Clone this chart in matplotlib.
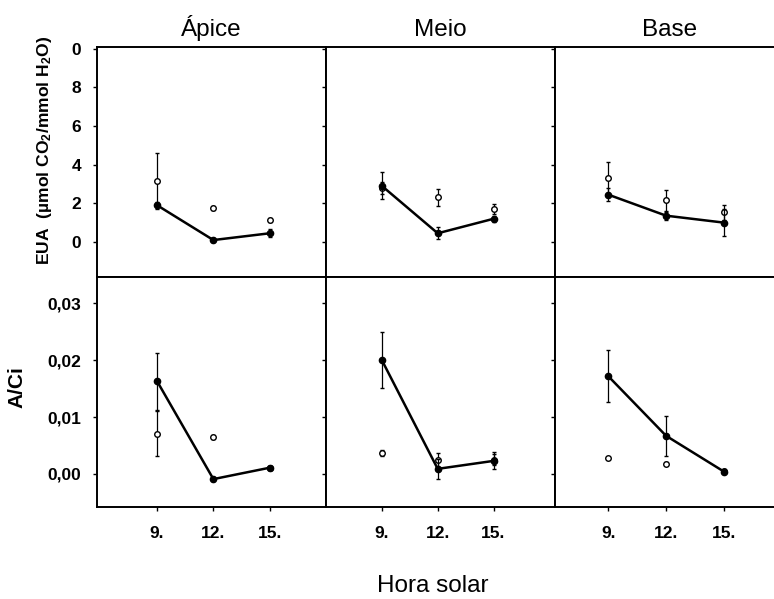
import matplotlib
matplotlib.use("Agg")
import matplotlib.pyplot as plt

plt.rcParams["font.family"] = ["Liberation Sans", "DejaVu Sans"]
plt.rcParams["mathtext.default"] = "regular"

# data
positions = ["Ápice", "Meio", "Base"]
hours = [9, 12, 15]
hour_labels = ["9.", "12.", "15."]

eua_closed = [[1.9, 0.1, 0.45], [2.9, 0.45, 1.2], [2.45, 1.36, 1.0]]
eua_closed_err = [[0.15, 0.1, 0.2], [0.7, 0.3, 0.15], [0.35, 0.2, 0.7]]
eua_open = [[3.15, 1.74, 1.13], [2.8, 2.3, 1.7], [3.33, 2.16, 1.53]]
eua_open_err = [[1.45, 0.1, 0.1], [0.3, 0.45, 0.25], [0.8, 0.55, 0.4]]

aci_closed = [[0.0163, -0.0009, 0.0011], [0.0200, 0.0009, 0.0023], [0.0172, 0.0067, 0.0004]]
aci_closed_err = [[0.005, 0.0003, 0.0003], [0.0049, 0.0018, 0.0015], [0.0046, 0.0035, 0.0002]]
aci_open = [[0.0071, 0.0065, 0.0011], [0.0037, 0.0025, 0.0025], [0.0028, 0.0018, 0.0006]]
aci_open_err = [[0.004, 0.0003, 0.0002], [0.0005, 0.0012, 0.001], [0.0002, 0.0003, 0.0002]]

eua_ticks = [0, 2, 4, 6, 8, 10]
eua_tick_labels = ["0", "2", "4", "6", "8", "0"]
aci_ticks = [0.0, 0.01, 0.02, 0.03]
aci_tick_labels = ["0,00", "0,01", "0,02", "0,03"]

# layout (pixels of a 774x599 canvas)
W, H = 774, 599
col_left = [97, 326, 555]
col_w = 229
row_top = [47, 277]
row_h = 230
xlims = [(5.8, 18.0), (6.0, 18.3), (6.25, 18.1)]

fig = plt.figure(figsize=(W / 100, H / 100), dpi=100)

rows = [
    (eua_closed, eua_closed_err, eua_open, eua_open_err, (-1.81, 10.08), eua_ticks, eua_tick_labels),
    (aci_closed, aci_closed_err, aci_open, aci_open_err, (-0.0058, 0.0346), aci_ticks, aci_tick_labels),
]

for r, (cl, cle, op, ope, ylim, yt, ytl) in enumerate(rows):
    for c in range(3):
        ax = fig.add_axes([col_left[c] / W, 1 - (row_top[r] + row_h) / H, col_w / W, row_h / H])
        ax.errorbar(hours, op[c], yerr=ope[c], fmt="o", mfc="white", mec="black", ms=4,
                    mew=1.0, ecolor="black", elinewidth=0.9, capsize=1.5, zorder=2)
        ax.errorbar(hours, cl[c], yerr=cle[c], fmt="-o", color="black", ms=4.5, lw=1.8,
                    ecolor="black", elinewidth=0.9, capsize=1.5, zorder=3)
        ax.set_xlim(xlims[c])
        ax.set_ylim(ylim)
        ax.set_yticks(yt)
        ax.set_xticks(hours)
        for s in ax.spines.values():
            s.set_linewidth(1.4)
        ax.tick_params(direction="out", length=3, width=1, labelsize=12.5)
        ax.tick_params(axis="y", pad=8.5)
        if c == 0:
            ax.set_yticklabels(ytl, fontweight="bold")
        else:
            ax.set_yticklabels([])
        if r == 1:
            ax.set_xticklabels(hour_labels, fontweight="bold")
            ax.tick_params(axis="x", pad=10.5)
        else:
            ax.set_xticklabels([])
            ax.tick_params(axis="x", length=0)
        if r == 0:
            ax.set_title(positions[c], fontsize=17.5, pad=8)

fig.text(45 / W, 1 - 150 / H, "EUA  (µmol CO$_2$/mmol H$_2$O)", rotation=90,
         ha="center", va="center", fontsize=12.6, fontweight="bold")
fig.text(17 / W, 1 - 387 / H, "A/Ci", rotation=90, ha="center", va="center",
         fontsize=15, fontweight="bold")
fig.text(433 / W, 1 - 586 / H, "Hora solar", ha="center", va="center", fontsize=17.5)

fig.savefig("out.png", dpi=100)
